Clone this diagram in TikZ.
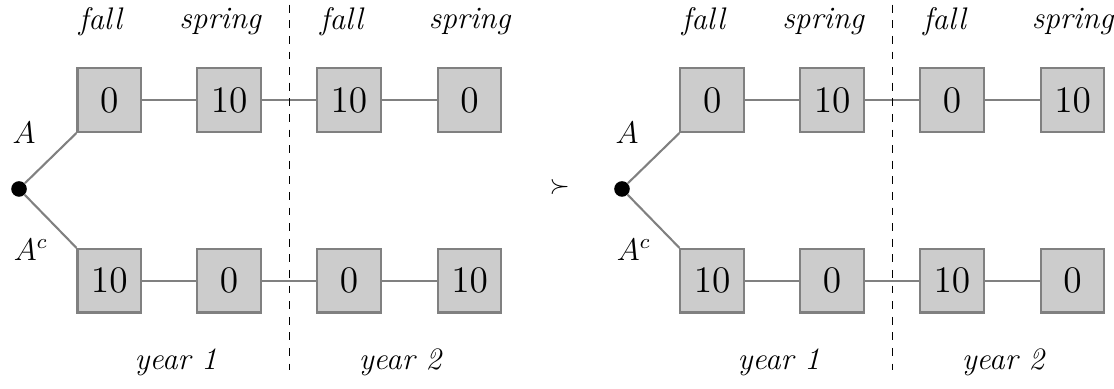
\documentclass[tikz,border=0pt]{standalone}
\usepackage{amsmath,amssymb}
\usepackage{tikz}
\usetikzlibrary{positioning,calc}

\tikzset{
    payoff/.style={draw=gray, fill=gray!40, line width=0.8pt, minimum width=0.86cm, minimum height=0.86cm, inner sep=0pt, font=\Large},
    link/.style={draw=gray, line width=0.8pt},
    season/.style={font=\large\itshape},
    divider/.style={dashed, line width=0.4pt}
}

\begin{document}
\begin{tikzpicture}
        \useasboundingbox (-0.257,-2.70) rectangle (14.80,2.554);

        % Left lottery
        \node[fill=black, circle, inner sep=0pt, minimum size=6pt] (ldot) at (0,0) {};
        \node[payoff] (lt1) at (1.22,1.20) {$0$};
        \node[payoff] (lt2) at (2.84,1.20) {$10$};
        \node[payoff] (lt3) at (4.46,1.20) {$10$};
        \node[payoff] (lt4) at (6.09,1.20) {$0$};
        \node[payoff] (lb1) at (1.22,-1.24) {$10$};
        \node[payoff] (lb2) at (2.84,-1.24) {$0$};
        \node[payoff] (lb3) at (4.46,-1.24) {$0$};
        \node[payoff] (lb4) at (6.09,-1.24) {$10$};

        \draw[link] (ldot) -- (lt1.south west);
        \draw[link] (ldot) -- (lb1.north west);
        \draw[link] (lt1) -- (lt2) -- (lt3) -- (lt4);
        \draw[link] (lb1) -- (lb2) -- (lb3) -- (lb4);

        \coordinate (ltop) at (3.66,2.49);
        \coordinate (lbot) at (3.66,-2.45);
        \draw[divider] (ltop) -- (lbot);

        % Left labels
        \node[font=\large] (la) at (0.07,0.76) {$A$};
        \node[font=\large] (lac) at (0.16,-0.82) {$A^c$};
        \node[season] (lf1) at (1.10,2.26) {fall};
        \node[season] (ls1) at (2.72,2.26) {spring};
        \node[season] (lf2) at (4.36,2.26) {fall};
        \node[season] (ls2) at (6.09,2.26) {spring};
        \node[season] (ly1) at (2.12,-2.34) {year 1};
        \node[season] (ly2) at (5.15,-2.34) {year 2};

        % Preference
        \node (pref) at (7.31,0.02) {$\succ$};

        % Right lottery
        \begin{scope}[xshift=8.15cm]
        \node[fill=black, circle, inner sep=0pt, minimum size=6pt] (rdot) at (0,0) {};
        \node[payoff] (rt1) at (1.22,1.20) {$0$};
        \node[payoff] (rt2) at (2.84,1.20) {$10$};
        \node[payoff] (rt3) at (4.46,1.20) {$0$};
        \node[payoff] (rt4) at (6.09,1.20) {$10$};
        \node[payoff] (rb1) at (1.22,-1.24) {$10$};
        \node[payoff] (rb2) at (2.84,-1.24) {$0$};
        \node[payoff] (rb3) at (4.46,-1.24) {$10$};
        \node[payoff] (rb4) at (6.09,-1.24) {$0$};

        \draw[link] (rdot) -- (rt1.south west);
        \draw[link] (rdot) -- (rb1.north west);
        \draw[link] (rt1) -- (rt2) -- (rt3) -- (rt4);
        \draw[link] (rb1) -- (rb2) -- (rb3) -- (rb4);

        \coordinate (rtop) at (3.66,2.49);
        \coordinate (rbot) at (3.66,-2.45);
        \draw[divider] (rtop) -- (rbot);

        % Right labels
        \node[font=\large] (ra) at (0.07,0.76) {$A$};
        \node[font=\large] (rac) at (0.16,-0.82) {$A^c$};
        \node[season] (rf1) at (1.10,2.26) {fall};
        \node[season] (rs1) at (2.72,2.26) {spring};
        \node[season] (rf2) at (4.36,2.26) {fall};
        \node[season] (rs2) at (6.09,2.26) {spring};
        \node[season] (ry1) at (2.12,-2.34) {year 1};
        \node[season] (ry2) at (5.15,-2.34) {year 2};
        \end{scope}
\end{tikzpicture}
\end{document}
